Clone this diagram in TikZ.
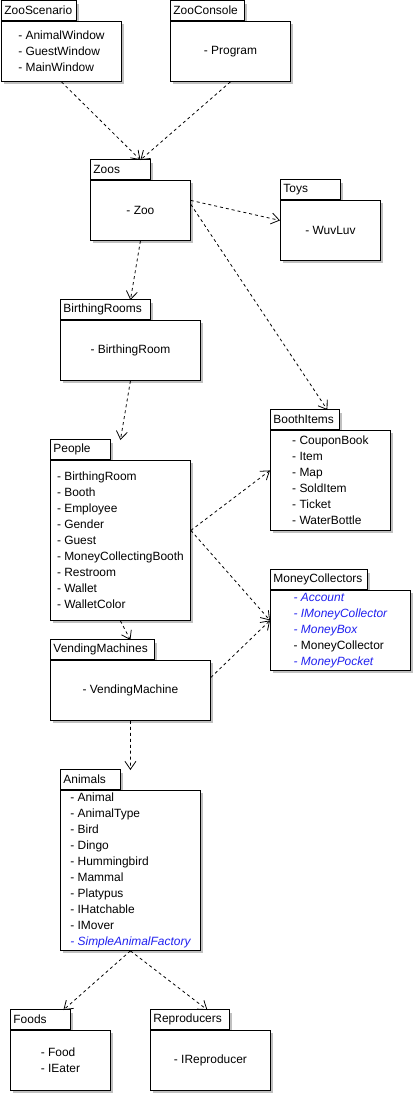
\documentclass[tikz,border=0pt]{standalone}
\usepackage{fontspec}
\setmainfont{Liberation Sans}
\usepackage{tikz}
\usepackage{xcolor}
\usetikzlibrary{arrows.meta,positioning,shadows}
\definecolor{Shade}{HTML}{C0C0C0}
\definecolor{Italic}{HTML}{2020F0}
\newcommand{\ab}[1]{{\color{Italic}\itshape - #1}}

\begin{document}
\begin{tikzpicture}[
  x=0.02cm,y=-0.02cm,
  font=\fontsize{6.8}{9.07}\selectfont,
  pkgbody/.style={draw=black,fill=white,line width=0.5pt,anchor=north west,align=left,inner sep=0pt,
    drop shadow={shadow xshift=0.06cm,shadow yshift=-0.06cm,fill=Shade,opacity=1}},
  pkgtab/.style={draw=black,fill=white,line width=0.5pt,anchor=south west,minimum height=0.4cm,
    inner xsep=0.06cm,inner ysep=0pt,align=left,
    drop shadow={shadow xshift=0.06cm,shadow yshift=-0.06cm,fill=Shade,opacity=1}},
  dep/.style={draw=black,line width=0.45pt,dash pattern=on 1.7pt off 1.7pt,
    -{Straight Barb[length=0.16cm,width=0.22cm,line width=0.45pt]}}
]
\useasboundingbox (0,0) rectangle (415,1095);
% tabs first, bodies over them
\node[pkgtab,text width=1.38cm] (scen-t) at (1,21) {ZooScenario};
\node[pkgbody,minimum width=2.4cm,minimum height=1.2cm] (scen) at (1,21) {- AnimalWindow\\- GuestWindow\\- MainWindow};
\node[pkgtab,text width=1.36cm] (cons-t) at (170,21) {ZooConsole};
\node[pkgbody,minimum width=2.4cm,minimum height=1.2cm] (cons) at (170,21) {- Program};
\node[pkgtab,text width=1.08cm] (zoos-t) at (90,180) {Zoos};
\node[pkgbody,minimum width=2.0cm,minimum height=1.2cm] (zoos) at (90,180) {- Zoo};
\node[pkgtab,text width=1.08cm] (toys-t) at (280,200) {Toys};
\node[pkgbody,minimum width=2.0cm,minimum height=1.2cm] (toys) at (280,200) {- WuvLuv};
\node[pkgtab,text width=1.68cm] (birth-t) at (60,320) {BirthingRooms};
\node[pkgbody,minimum width=2.8cm,minimum height=1.2cm] (birth) at (60,320) {- BirthingRoom};
\node[pkgtab,text width=1.08cm] (people-t) at (50,460) {People};
\node[pkgbody,minimum width=2.8cm,minimum height=3.2cm] (people) at (50,460) {- BirthingRoom\\- Booth\\- Employee\\- Gender\\- Guest\\- MoneyCollectingBooth\\- Restroom\\- Wallet\\- WalletColor};
\node[pkgtab,text width=1.26cm] (booth-t) at (270,430) {BoothItems};
\node[pkgbody,minimum width=2.4cm,minimum height=2.0cm] (booth) at (270,430) {- CouponBook\\- Item\\- Map\\- SoldItem\\- Ticket\\- WaterBottle};
\node[pkgtab,text width=1.82cm] (money-t) at (270,590) {MoneyCollectors};
\node[pkgbody,minimum width=2.8cm,minimum height=1.6cm] (money) at (270,590) {\ab{Account}\\\ab{IMoneyCollector}\\\ab{MoneyBox}\\- MoneyCollector\\\ab{MoneyPocket}};
\node[pkgtab,text width=1.96cm] (vend-t) at (50,660) {VendingMachines};
\node[pkgbody,minimum width=3.2cm,minimum height=1.2cm] (vend) at (50,660) {- VendingMachine};
\node[pkgtab,text width=1.08cm] (animals-t) at (60,790) {Animals};
\node[pkgbody,minimum width=2.8cm,minimum height=3.2cm] (animals) at (60,790) {- Animal\\- AnimalType\\- Bird\\- Dingo\\- Hummingbird\\- Mammal\\- Platypus\\- IHatchable\\- IMover\\\ab{SimpleAnimalFactory}};
\node[pkgtab,text width=1.08cm] (foods-t) at (10,1030) {Foods};
\node[pkgbody,minimum width=2.0cm,minimum height=1.2cm] (foods) at (10,1030) {- Food\\- IEater};
\node[pkgtab,text width=1.46cm] (repro-t) at (150,1030) {Reproducers};
\node[pkgbody,minimum width=2.4cm,minimum height=1.2cm] (repro) at (150,1030) {- IReproducer};
% dependencies
\draw[dep] (scen.south) -- ([yshift=0.4cm]zoos.north);
\draw[dep] (cons.south) -- ([yshift=0.4cm]zoos.north);
\draw[dep] ([yshift=0.2cm]zoos.east) -- ([yshift=0.2cm]toys.west);
\draw[dep] ([yshift=0.12cm]zoos.east) -- ([yshift=0.4cm,xshift=-0.06cm]booth.north);
\draw[dep] (zoos.south) -- ([yshift=0.4cm]birth.north);
\draw[dep] (birth.south) -- ([yshift=0.4cm]people.north);
\draw[dep] ([yshift=0.2cm]people.east) -- ([yshift=0.2cm]booth.west);
\draw[dep] ([yshift=0.2cm]people.east) -- ([yshift=0.2cm]money.west);
\draw[dep] (people.south) -- ([yshift=0.4cm]vend.north);
\draw[dep] ([yshift=0.26cm]vend.east) -- ([yshift=0.2cm]money.west);
\draw[dep] (vend.south) -- ([yshift=0.4cm]animals.north);
\draw[dep] (animals.south) -- ([yshift=0.4cm,xshift=0.06cm]foods.north);
\draw[dep] (animals.south) -- ([yshift=0.4cm,xshift=-0.06cm]repro.north);
\end{tikzpicture}
\end{document}
